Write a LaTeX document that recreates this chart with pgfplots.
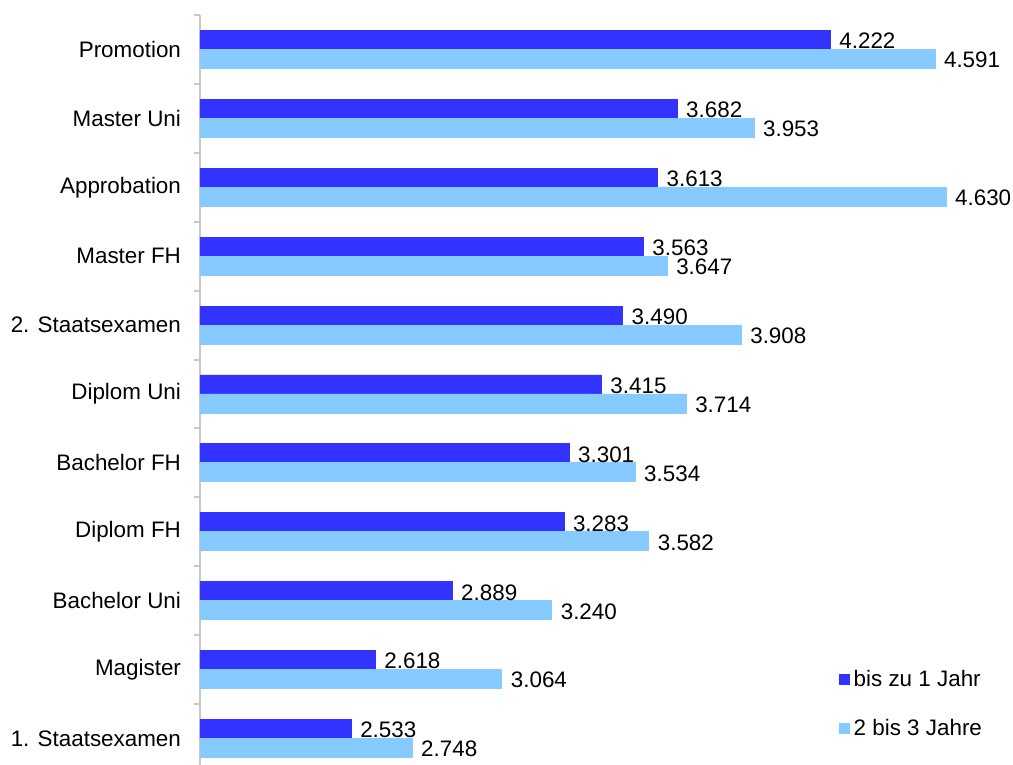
\documentclass[border=0pt]{standalone}
\usepackage{pgfplots}
\pgfplotsset{compat=1.18}
\usepackage{fontspec}
\setmainfont{Liberation Sans}
\definecolor{darkb}{RGB}{51,51,255}
\definecolor{lightb}{RGB}{135,202,255}
\definecolor{axgray}{RGB}{200,200,200}
\begin{document}
\begin{tikzpicture}[font=\fontsize{11.2}{13.4}\selectfont]
\begin{axis}[
  at={(0,0)}, anchor=south west,
  width=406.5pt, height=375pt, scale only axis,
  xbar, bar width=0.276,
  xmin=2000, xmax=4866,
  ymin=-0.385, ymax=10.5,
  axis x line=none,
  axis y line*=left,
  axis line style={draw=axgray, line width=1pt, -},
  ytick={0,...,10},
  yticklabels={1. Staatsexamen, Magister, Bachelor Uni, Diplom FH, Bachelor FH, Diplom Uni, 2. Staatsexamen, Master FH, Approbation, Master Uni, Promotion},
  minor ytick={0.5,1.5,...,10.5},
  major tick length=0pt,
  minor tick length=3pt,
  tick align=outside,
  minor tick style={draw=axgray, line width=1pt},
  yticklabel style={xshift=-6pt},
  nodes near coords,
  every node near coord/.append style={anchor=west, font=\fontsize{11.2}{13.4}\selectfont, xshift=1pt, yshift=-0.6pt},
  /pgf/number format/.cd, 1000 sep={.}, assume math mode=true,
  /pgfplots/.cd,
  legend style={at={(axis description cs:0.778,0.138)}, anchor=north west, draw=none, fill=none, row sep=11pt, font=\fontsize{11.2}{13.4}\selectfont},
  legend cell align=left,
]
\addplot[fill=darkb, draw=darkb, bar shift=0.138,
  legend image code/.code={\fill[darkb] (0pt,-2.5pt) rectangle (5pt,2.5pt);}]
  coordinates {(2533,0) (2618,1) (2889,2) (3283,3) (3301,4) (3415,5) (3490,6) (3563,7) (3613,8) (3682,9) (4222,10)};
\addplot[fill=lightb, draw=lightb, bar shift=-0.138,
  legend image code/.code={\fill[lightb] (0pt,-2.5pt) rectangle (5pt,2.5pt);}]
  coordinates {(2748,0) (3064,1) (3240,2) (3582,3) (3534,4) (3714,5) (3908,6) (3647,7) (4630,8) (3953,9) (4591,10)};
\legend{bis zu 1 Jahr, 2 bis 3 Jahre}
\end{axis}
\pgfresetboundingbox
\path[use as bounding box] (-100pt,0pt) rectangle (406.5pt,382.5pt);
\end{tikzpicture}
\end{document}
